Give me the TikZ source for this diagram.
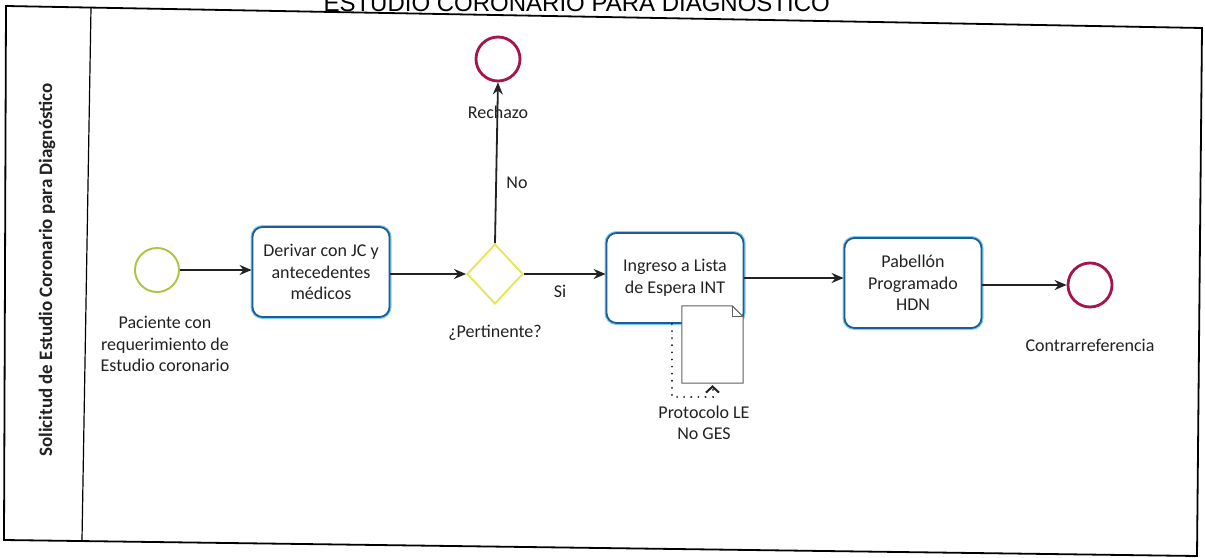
\documentclass[tikz,border=0pt]{standalone}
\usepackage{fontspec}
\setmainfont{Carlito}
\newfontfamily\titlefont{Liberation Sans}
\usetikzlibrary{shapes.geometric,arrows.meta}
\definecolor{taskblue}{HTML}{1F5C96}
\definecolor{glow}{HTML}{7DD0F0}
\definecolor{startgreen}{HTML}{A8C63E}
\definecolor{gateyellow}{HTML}{E6E65A}
\definecolor{endred}{HTML}{A3154C}
\definecolor{ink}{HTML}{222222}
\begin{document}
\begin{tikzpicture}[x=1pt,y=-1pt,
  txt/.style={font=\fontsize{18}{21.5}\selectfont, text=ink, align=center, inner sep=0pt},
  task/.style={txt, rectangle, rounded corners=10pt, draw=taskblue, line width=1.8pt,
    preaction={draw=glow, line width=4pt}, minimum width=137pt, minimum height=90pt, fill=white},
  startev/.style={circle, minimum size=44pt, inner sep=0pt, draw=startgreen, line width=1.9pt},
  endev/.style={circle, minimum size=44pt, inner sep=0pt, draw=endred, line width=2.8pt},
  gate/.style={diamond, aspect=1, minimum width=56pt, minimum height=60pt, inner sep=0pt, draw=gateyellow, line width=1.9pt},
  arr/.style={draw=ink, line width=1.8pt, -{Stealth[length=12pt,width=10pt]}},
  assoc/.style={draw=ink, line width=2pt, line cap=round, dash pattern=on 0.1pt off 7pt, -{Straight Barb[length=6pt,width=13pt,line cap=butt,sep=2pt]}},
  frame/.style={draw=black, line width=1.8pt}
]
\useasboundingbox (0,0) rectangle (1205,557);
\fill[white] (0,0) rectangle (1205,557);

% title (top part cut off by the page edge, as in the scan)
\node[anchor=base east, inner sep=0pt, font=\titlefont\fontsize{24}{28}\selectfont] (title) at (830,11) {ESTUDIO CORONARIO PARA DIAGN\'OSTICO};

% pool frame
\draw[frame] (6,6) -- (1202,28) -- (1197,556) -- (4,540) -- cycle;
\draw[draw=black, line width=1.2pt] (91,8) -- (82,540);
\node[font=\fontsize{19}{22}\selectfont\bfseries, text=ink, rotate=90, inner sep=0pt] (lane) at (47,270) {Solicitud de Estudio Coronario para Diagn\'ostico};

% nodes
\node[startev] (S) at (157,270) {};
\node[txt] (Slab) at (165,344) {Paciente con\\requerimiento de\\Estudio coronario};

\node[task] (T1) at (321,272) {Derivar con JC y\\antecedentes\\m\'edicos};

\node[gate] (G) at (495,274) {};
\node[txt] (Glab) at (495,333) {¿Pertinente?};

\node[endev] (R) at (498,59) {};
\node[txt] (Rlab) at (498,112) {Rechazo};

\node[task] (T2) at (675,278) {Ingreso a Lista\\de Espera INT};

\node[task] (T3) at (913,283) {Pabell\'on\\Programado\\HDN};

\node[endev] (E) at (1090,285) {};
\node[txt] (Elab) at (1090,345) {Contrarreferencia};

% data object
\node[minimum width=61pt, minimum height=77pt, inner sep=0pt] (D) at (712.5,344.5) {};
\draw[draw=gray!75!black, line width=1pt, fill=white]
  (D.north west) -- ([xshift=-11pt]D.north east) -- ([yshift=-11pt]D.north east)
  -- (D.south east) -- (D.south west) -- cycle;
\draw[draw=gray!75!black, line width=1pt]
  ([xshift=-11pt]D.north east) |- ([yshift=-11pt]D.north east);
\node[txt] (Dlab) at (704,423) {Protocolo LE\\No GES};

% connectors
\draw[arr] (S.east) -- (S.east -| T1.west);
\draw[arr] (T1.east |- G.west) -- (G.west);
\draw[arr] (G.north) -- (R.south);
\node[txt] (No) at (517,183) {No};
\draw[arr] (G.east) -- (G.east -| T2.west);
\node[txt] (Si) at (560,291) {Si};
\draw[arr] (T2.east) -- (T2.east -| T3.west);
\draw[arr] (T3.east |- E.west) -- (E.west);

\coordinate (ac) at (695,397);
\draw[assoc] ([xshift=-3pt]T2.south) |- (ac) -| (D.south);
\end{tikzpicture}
\end{document}
